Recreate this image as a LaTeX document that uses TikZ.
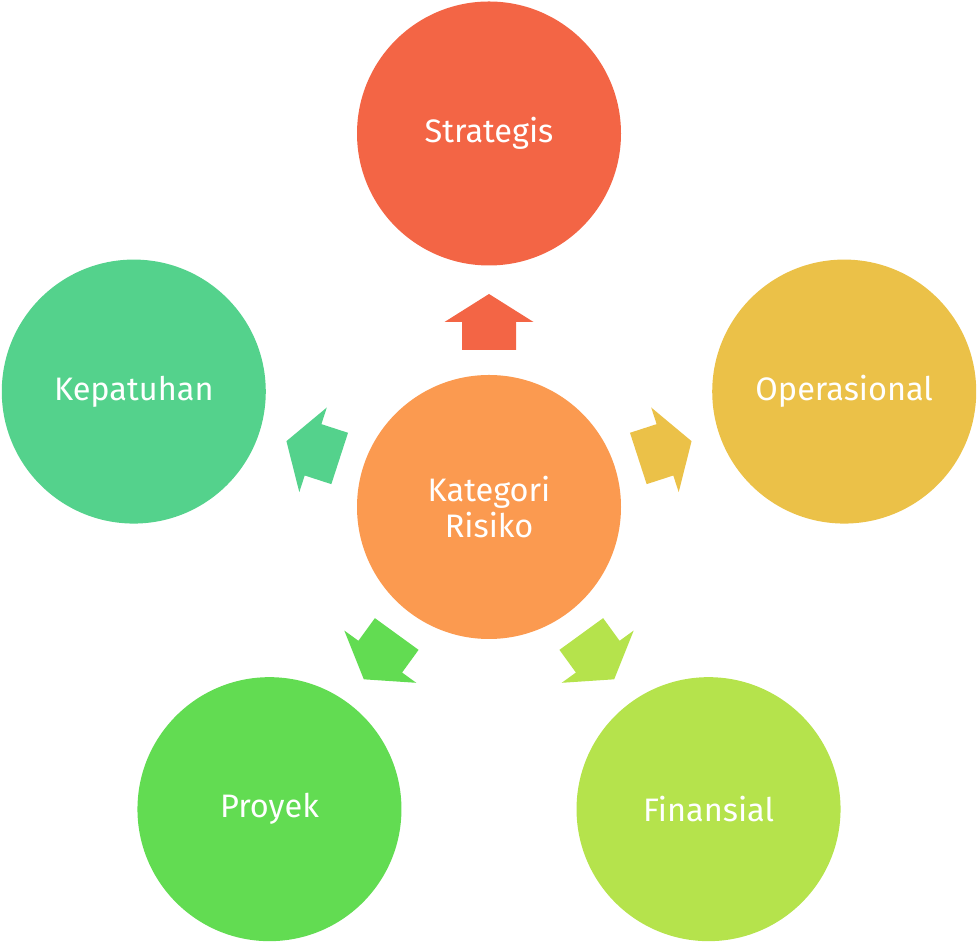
\documentclass[tikz,border=0pt]{standalone}
\usepackage{fontspec}
\setmainfont{Fira Sans}
\usetikzlibrary{calc}
\definecolor{cstrat}{HTML}{F36545}
\definecolor{ccenter}{HTML}{FB9A50}
\definecolor{coper}{HTML}{EBC148}
\definecolor{cfin}{HTML}{B5E34C}
\definecolor{cproy}{HTML}{62DC52}
\definecolor{ckep}{HTML}{54D28C}
\tikzset{
  bubble/.style={circle, fill=#1, minimum size=264pt, inner sep=0pt, text=white, align=center,
    font=\fontsize{32.5}{36}\selectfont},
  blockarrow/.style={fill=#1},
}
\newcommand{\bigarrow}[2]{%
  \begin{scope}[shift={(c.center)}, rotate=#1]
    \fill[blockarrow=#2] (157,-27) -- (185,-27) -- (185,-44.5) -- (213,0) -- (185,44.5) -- (185,27) -- (157,27) -- cycle;
  \end{scope}}
\begin{document}
\begin{tikzpicture}[x=1pt,y=1pt]
\useasboundingbox (0,0) rectangle (978,944);
\node[bubble=ccenter] (c) at (489,437) {Kategori\\Risiko};
\node[bubble=cstrat] (s) at ($(c)+(90:373.5)$) {Strategis};
\node[bubble=coper] (o) at ($(c)+(18:373.5)$) {Operasional};
\node[bubble=cfin] (f) at ($(c)+(-54:373.5)$) {Finansial};
\node[bubble=cproy] (p) at ($(c)+(-126:373.5)$) {Proyek};
\node[bubble=ckep] (k) at ($(c)+(162:373.5)$) {Kepatuhan};
\bigarrow{90}{cstrat}
\bigarrow{18}{coper}
\bigarrow{-54}{cfin}
\bigarrow{-126}{cproy}
\bigarrow{162}{ckep}
\end{tikzpicture}
\end{document}
